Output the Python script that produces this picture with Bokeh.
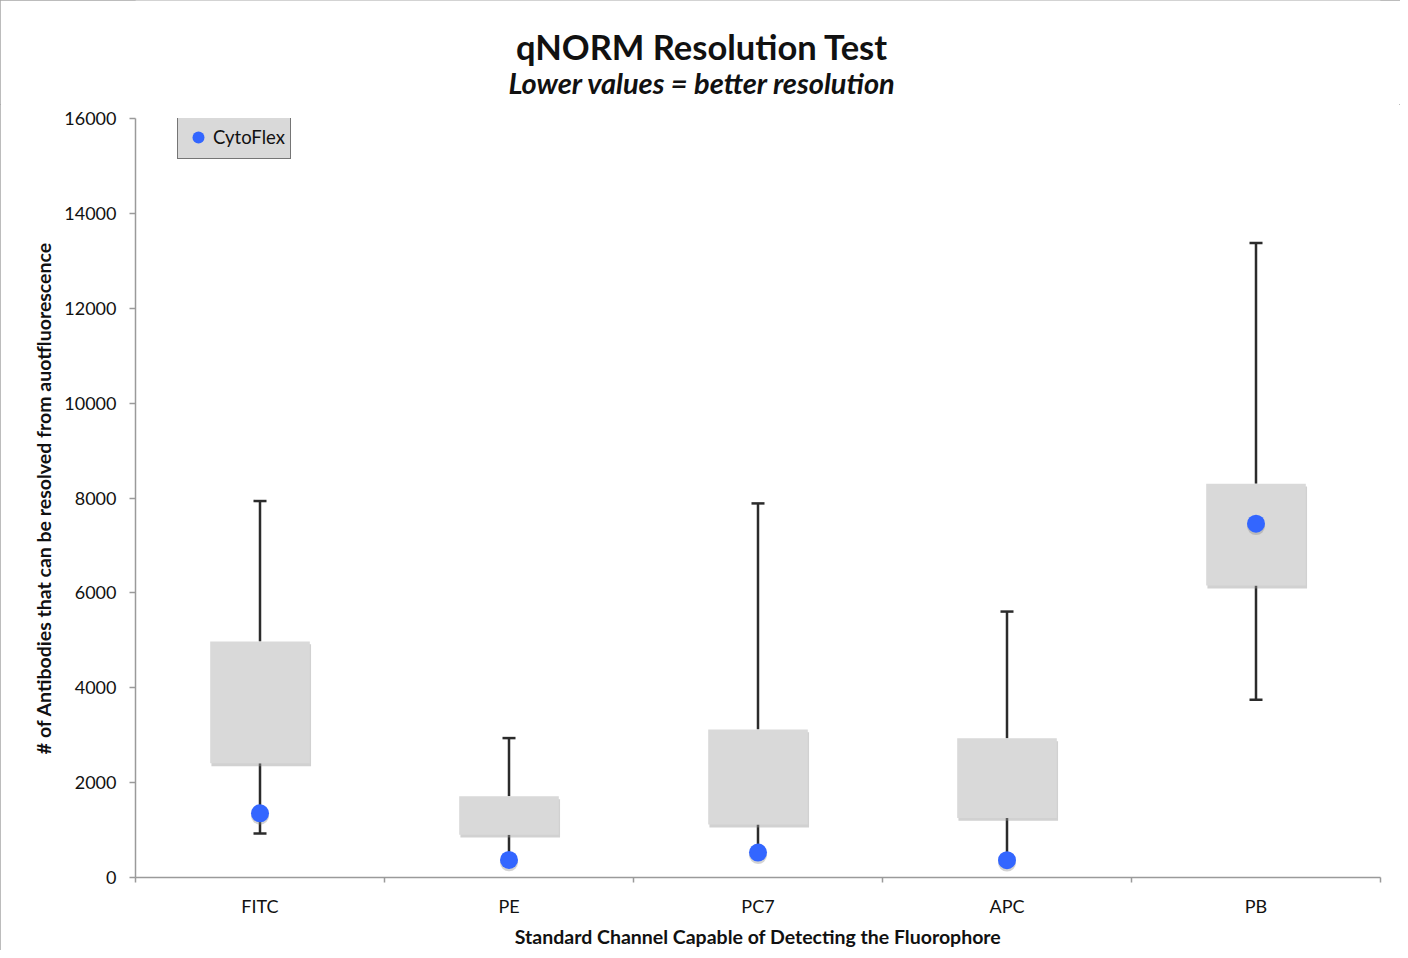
from bokeh.plotting import figure
from bokeh.layouts import column
from bokeh.models import (ColumnDataSource, Range1d, FixedTicker, Whisker, TeeHead,
                          Legend, LegendItem)
from bokeh.core.properties import value
from bokeh.transform import dodge
from bokeh.embed import file_html
from bokeh.resources import INLINE

# qNORM resolution test values
categories = ["FITC", "PE", "PC7", "APC", "PB"]
box_low = [2406, 901, 1116, 1255, 6154]
box_high = [4975, 1712, 3122, 2933, 8301]
whisker_low = [926, 371, 526, 364, 3747]
whisker_high = [7936, 2939, 7886, 5606, 13375]
cytoflex = [1354, 371, 526, 364, 7459]
y_ticks = [0, 2000, 4000, 6000, 8000, 10000, 12000, 14000, 16000]

title = "qNORM Resolution Test"
subtitle = "Lower values = better resolution"

FONT = "Lato"
INK = "#111111"
AXIS = "#9a9a9a"
W, H, HEAD = 1400, 950, 104
LEFT, RIGHT = 135, 20

# ---- header strip with title + subtitle (x/y in pixels of the page) ----
head = figure(width=W, height=HEAD, output_backend="svg", toolbar_location=None,
              x_range=Range1d(LEFT, W - RIGHT), y_range=Range1d(HEAD, 0),
              x_axis_location=None, y_axis_location=None,
              min_border_left=LEFT, min_border_right=RIGHT, min_border_top=0, min_border_bottom=0)
head.outline_line_color = None
head.xgrid.visible = False
head.ygrid.visible = False
head.text(x=[701.5], y=[46], text=[title], text_align="center",
          text_baseline="alphabetic", text_font=value(FONT), text_font_size="34.5px",
          text_font_style="bold", text_color=INK)
head.text(x=[702], y=[82], text=[subtitle], text_align="center",
          text_baseline="alphabetic", text_font=value(FONT), text_font_size="29px",
          text_font_style="bold italic", text_color=INK)

# ---- main chart ----
xpos = [i + 0.5 for i in range(len(categories))]
src = ColumnDataSource(dict(x=xpos, cat=categories, box_low=box_low, box_high=box_high,
                            whisker_low=whisker_low, whisker_high=whisker_high,
                            cytoflex=cytoflex))

p = figure(width=W, height=H - HEAD, output_backend="svg", toolbar_location=None,
           x_range=Range1d(0, len(categories)), y_range=Range1d(0, 16000),
           min_border_left=LEFT, min_border_right=RIGHT, min_border_top=118 - HEAD,
           min_border_bottom=72)
p.outline_line_color = None
p.xgrid.visible = False
p.ygrid.visible = False

# whiskers (drawn underneath boxes and dots)
up = Whisker(base="x", lower="box_high", upper="whisker_high", source=src, dimension="height",
             line_color="#2b2b2b", line_width=2.5, lower_head=None,
             upper_head=TeeHead(size=13, line_color="#2b2b2b", line_width=2.5))
lo = Whisker(base="x", lower="whisker_low", upper="box_low", source=src, dimension="height",
             line_color="#2b2b2b", line_width=2.5, upper_head=None,
             lower_head=TeeHead(size=13, line_color="#2b2b2b", line_width=2.5))
up.level = "underlay"
lo.level = "underlay"
p.add_layout(up)
p.add_layout(lo)

# box shadow + boxes
p.vbar(x=dodge("x", 0.005), top=dodge("box_high", -60), bottom=dodge("box_low", -60),
       width=0.4, source=src, fill_color="#9a9a9a", fill_alpha=0.45, line_color=None)
p.vbar(x="x", top="box_high", bottom="box_low", width=0.4, source=src,
       fill_color="#d9d9d9", line_color=None)

# dot shadow + dots
p.scatter(x="x", y=dodge("cytoflex", -50), size=18, source=src,
          fill_color="#808080", fill_alpha=0.35, line_color=None)
dots = p.scatter(x="x", y="cytoflex", size=18, source=src,
                 fill_color="#3366ff", line_color=None)

legend = Legend(items=[LegendItem(label="CytoFlex", renderers=[dots])], location=(42, 718))
legend.label_text_font = FONT
legend.label_text_font_size = "18.5px"
legend.label_text_color = INK
legend.background_fill_color = "#d9d9d9"
legend.background_fill_alpha = 1
legend.border_line_color = INK
legend.border_line_width = 1.5
legend.padding = 5
legend.margin = 0
legend.spacing = 0
legend.glyph_width = 30
legend.glyph_height = 30
legend.label_standoff = 0
legend.label_height = 32
p.add_layout(legend)

# y axis
p.yaxis.ticker = FixedTicker(ticks=y_ticks, minor_ticks=[])
p.yaxis.axis_line_color = AXIS
p.yaxis.axis_line_width = 1.5
p.yaxis.major_tick_line_color = AXIS
p.yaxis.major_tick_line_width = 1.5
p.yaxis.major_tick_in = 0
p.yaxis.major_tick_out = 6
p.yaxis.major_label_standoff = 13
p.yaxis.major_label_text_font = FONT
p.yaxis.major_label_text_font_size = "18px"
p.yaxis.major_label_text_color = INK
p.yaxis.axis_label = "# of Antibodies that can be resolved from auotfluorescence"
p.yaxis.axis_label_text_font = FONT
p.yaxis.axis_label_text_font_size = "19.5px"
p.yaxis.axis_label_text_font_style = "bold"
p.yaxis.axis_label_text_color = INK
p.yaxis.axis_label_standoff = 6

# x axis: labels at category centres, tick marks at category boundaries
p.xaxis.ticker = FixedTicker(ticks=xpos, minor_ticks=list(range(len(categories) + 1)))
p.xaxis.major_label_overrides = {x: c for x, c in zip(xpos, categories)}
p.xaxis.axis_line_color = AXIS
p.xaxis.axis_line_width = 1.5
p.xaxis.major_tick_in = 0
p.xaxis.major_tick_out = 0
p.xaxis.minor_tick_in = 0
p.xaxis.minor_tick_out = 5
p.xaxis.minor_tick_line_color = AXIS
p.xaxis.minor_tick_line_width = 1.5
p.xaxis.major_label_standoff = 12
p.xaxis.major_label_text_font = FONT
p.xaxis.major_label_text_font_size = "18px"
p.xaxis.major_label_text_color = INK
p.xaxis.axis_label = "Standard Channel Capable of Detecting the Fluorophore"
p.xaxis.axis_label_text_font = FONT
p.xaxis.axis_label_text_font_size = "19.5px"
p.xaxis.axis_label_text_font_style = "bold"
p.xaxis.axis_label_text_color = INK
p.xaxis.axis_label_standoff = 5

page = column(head, p, spacing=0)
page.styles = {"outline": "1px solid #a6a6a6", "outline-offset": "-1px"}

open("out.html", "w").write(file_html(page, INLINE))
